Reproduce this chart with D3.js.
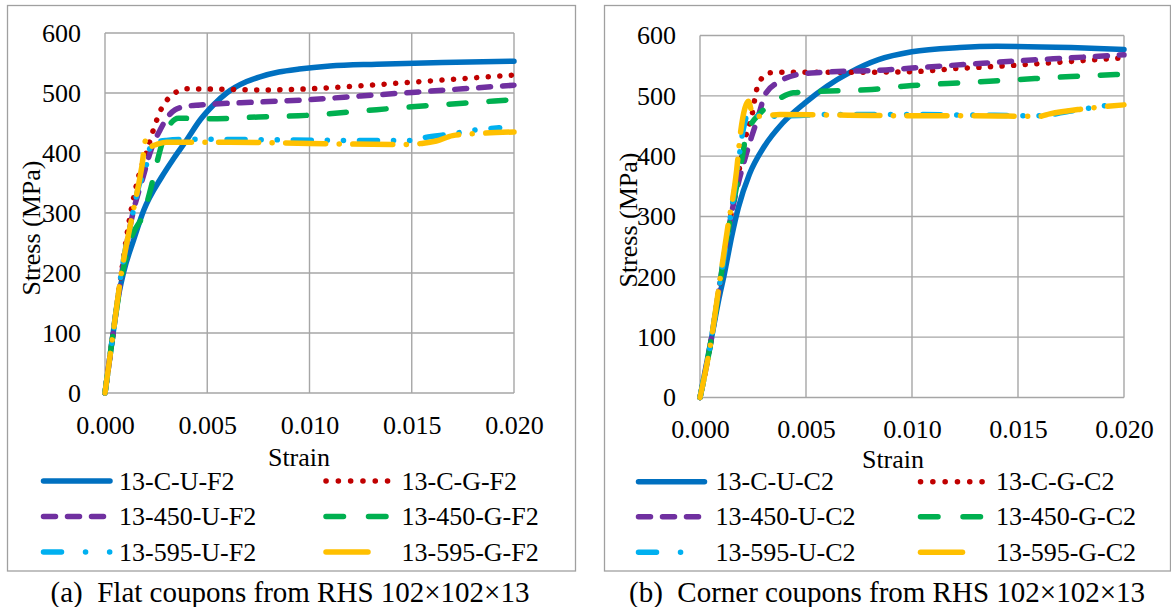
<!DOCTYPE html>
<html><head><meta charset="utf-8">
<script src="https://cdn.jsdelivr.net/npm/d3@7"></script>
<style>
html,body{margin:0;padding:0;background:#fff;}
svg text{font-family:"Liberation Serif","Times New Roman",serif;fill:#000;white-space:pre;}
</style>
</head><body>
<svg id="c" width="1171" height="607"></svg>
<script>
// ---------- data ----------
const xTicks = [0, 0.005, 0.010, 0.015, 0.020];
const yTicks = [0, 100, 200, 300, 400, 500, 600];
const xTitle = "Strain";
const yTitle = "Stress (MPa)";
const captionA = "(a)  Flat coupons from RHS 102×102×13";
const captionB = "(b)  Corner coupons from RHS 102×102×13";
const namesA = ["13-C-U-F2","13-C-G-F2","13-450-U-F2","13-450-G-F2","13-595-U-F2","13-595-G-F2"];
const namesB = ["13-C-U-C2","13-C-G-C2","13-450-U-C2","13-450-G-C2","13-595-U-C2","13-595-G-C2"];

// panel (a) flat coupons: [strain, stress MPa]
const flatCU = [[0,0],[0.0004,100],[0.0006,150],[0.0009,200],[0.0014,255],[0.0019,305],[0.00277,360],[0.00334,390],[0.004,422],[0.00465,455],[0.0053,480],[0.00595,500],[0.00693,519],[0.00758,527],[0.0085,535],[0.0095,540],[0.011,545],[0.0133,548],[0.0165,551],[0.020,553]];
const flatCG = [[0,0],[0.0004,100],[0.0008,200],[0.0012,290],[0.00166,363],[0.0020,398],[0.00236,438],[0.00269,469],[0.0031,491],[0.0035,502],[0.0040,507],[0.006,506],[0.008,505],[0.010,507],[0.0125,512],[0.015,518],[0.0175,524],[0.020,530]];
const flat450U = [[0,0],[0.0004,100],[0.0008,195],[0.0013,290],[0.00187,361],[0.0023,410],[0.00269,438],[0.00302,458],[0.00342,472],[0.004,478],[0.00465,480],[0.0075,485],[0.010,489],[0.0125,495],[0.015,501],[0.0175,507],[0.020,513]];
const flat450G = [[0,0],[0.0004,100],[0.0008,190],[0.0013,260],[0.00189,299],[0.00226,344],[0.00253,383],[0.00302,438],[0.00359,458],[0.005,457],[0.0075,460],[0.010,463],[0.0125,470],[0.015,477],[0.0175,483],[0.020,489]];
const flat595U = [[0,0],[0.0004,100],[0.0008,200],[0.0013,290],[0.0017,350],[0.00196,369],[0.00212,397],[0.00228,417],[0.003,421],[0.0043,423],[0.008,422],[0.012,421],[0.015,421],[0.0155,425],[0.017,432],[0.018,438],[0.0193,442]];
const flat595G = [[0,0],[0.0004,100],[0.0008,200],[0.0013,290],[0.0018,377],[0.0020,422],[0.0021,410],[0.0025,414],[0.003,418],[0.006,418],[0.010,416],[0.0145,414],[0.0155,416],[0.0162,420],[0.017,429],[0.018,432],[0.020,435]];

// panel (b) corner coupons
const cornCU = [[0,0],[0.00055,100],[0.0009,165],[0.00115,205],[0.0015,268],[0.00181,315],[0.00233,370],[0.00303,416],[0.0039,455],[0.00494,488],[0.00599,516],[0.00703,538],[0.00842,560],[0.00999,573],[0.01225,580],[0.014,582],[0.0175,580],[0.020,577]];
const cornCG = [[0,0],[0.00055,100],[0.0009,180],[0.0013,270],[0.0017,350],[0.0020,405],[0.00216,433],[0.00244,466],[0.00267,510],[0.00283,524],[0.00322,538],[0.00377,539],[0.0049,539],[0.007,539],[0.010,540],[0.012,545],[0.014,549],[0.015,551],[0.0175,557],[0.020,563]];
const corn450U = [[0,0],[0.00055,100],[0.0009,180],[0.0013,270],[0.0017,340],[0.00197,377],[0.00244,433],[0.00275,466],[0.00307,502],[0.00377,524],[0.00456,535],[0.0058,539],[0.00877,543],[0.010,546],[0.0125,552],[0.015,558],[0.0175,563],[0.020,568]];
const corn450G = [[0,0],[0.00055,100],[0.0009,180],[0.0013,270],[0.0017,345],[0.0020,400],[0.0022,440],[0.00244,455],[0.00283,471],[0.00377,496],[0.0044,505],[0.00613,508],[0.00786,510],[0.010,517],[0.0125,522],[0.015,527],[0.0175,532],[0.020,536]];
const corn595U = [[0,0],[0.00055,100],[0.0009,180],[0.0013,270],[0.0017,360],[0.00204,444],[0.00228,471],[0.0026,468],[0.00338,466],[0.006,469],[0.010,469],[0.013,468],[0.016,467],[0.0175,475],[0.019,483],[0.0197,487]];
const corn595G = [[0,0],[0.00055,100],[0.0009,185],[0.0013,280],[0.00173,377],[0.00189,433],[0.00212,480],[0.00228,491],[0.00244,474],[0.0026,466],[0.00377,469],[0.007,468],[0.010,467],[0.013,467],[0.016,466],[0.0165,470],[0.018,478],[0.020,485]];

// ---------- styles ----------
const colors = ["#0070C0","#C00000","#7030A0","#00B050","#00B0F0","#FFC000"];
const dashCurve = [null,"0.1,11.5","12,12","17,23","18,16,0.1,16,0.1,16","40,13.5,0.1,13.5"];
const dashLegend = [null,"0.1,12.2","12,12","17.5,25","18,24,0.1,24,0.1,24","42,24,0.1,24"];
const SW = 5.5;

const svg = d3.select("#c");

function panel(cfg){
  const g = svg.append("g");
  g.append("rect").attr("x",cfg.box[0]).attr("y",cfg.box[1])
    .attr("width",cfg.box[2]-cfg.box[0]).attr("height",cfg.box[3]-cfg.box[1])
    .attr("fill","none").attr("stroke","#A0A0A0").attr("stroke-width",1.3);
  const x = d3.scaleLinear().domain([0,0.02]).range(cfg.xr);
  const y = d3.scaleLinear().domain([0,600]).range(cfg.yr);
  g.append("g").selectAll("line").data(yTicks).join("line")
    .attr("x1",cfg.xr[0]).attr("x2",cfg.xr[1])
    .attr("y1",d=>y(d)).attr("y2",d=>y(d))
    .attr("stroke","#A6A6A6").attr("stroke-width",1.4);
  g.append("g").selectAll("line").data(xTicks).join("line")
    .attr("y1",cfg.yr[0]).attr("y2",cfg.yr[1])
    .attr("x1",d=>x(d)).attr("x2",d=>x(d))
    .attr("stroke","#A6A6A6").attr("stroke-width",1.4);
  const ax = g.append("g").attr("transform",`translate(0,${cfg.yr[0]})`)
    .call(d3.axisBottom(x).tickValues(xTicks).tickFormat(d3.format(".3f")).tickSize(0).tickPadding(cfg.xpad));
  ax.select(".domain").remove();
  ax.selectAll("text").attr("font-size",26).attr("fill","#000");
  const ay = g.append("g").attr("transform",`translate(${cfg.xr[0]},0)`)
    .call(d3.axisLeft(y).tickValues(yTicks).tickFormat(d3.format("d")).tickSize(0).tickPadding(24));
  ay.select(".domain").remove();
  ay.selectAll("text").attr("font-size",26).attr("fill","#000");
  const line = d3.line().x(d=>x(d[0])).y(d=>y(d[1])).curve(d3.curveMonotoneX);
  cfg.series.forEach((s,i)=>{
    const p = g.append("path").attr("d",line(s)).attr("fill","none")
      .attr("stroke",colors[i]).attr("stroke-width",SW)
      .attr("stroke-linecap","round").attr("stroke-linejoin","round");
    if(dashCurve[i]) p.attr("stroke-dasharray",dashCurve[i]);
  });
  g.append("text").attr("x",cfg.xt[0]).attr("y",cfg.xt[1]).attr("text-anchor","middle")
    .attr("font-size",26).text(xTitle);
  g.append("text").attr("transform",`translate(${cfg.yt[0]},${cfg.yt[1]}) rotate(-90)`)
    .attr("text-anchor","middle").attr("font-size",26).text(yTitle);
  cfg.names.forEach((n,i)=>{
    const col = i%2, row = Math.floor(i/2);
    const ly = cfg.legRows[row];
    const lx = cfg.legCols[col];
    const l = g.append("line").attr("x1",lx[0]).attr("x2",lx[1]).attr("y1",ly).attr("y2",ly)
      .attr("stroke",colors[i]).attr("stroke-width",SW).attr("stroke-linecap","round");
    if(dashLegend[i]) l.attr("stroke-dasharray",dashLegend[i]);
    g.append("text").attr("x",lx[2]).attr("y",ly+8.5).attr("font-size",26).text(n);
  });
  svg.append("text").attr("x",cfg.cap[0]).attr("y",cfg.cap[1]).attr("text-anchor","middle")
    .attr("font-size",29).attr("xml:space","preserve").text(cfg.caption);
}

panel({
  box:[7.5,5.5,575.5,571], xr:[105,514], yr:[393,33], xpad:22.5,
  series:[flatCU,flatCG,flat450U,flat450G,flat595U,flat595G],
  names:namesA, xt:[299,466], yt:[40,228],
  legRows:[481,516.5,552], legCols:[[43.5,110,119],[326,388,401.5]],
  cap:[290,602], caption:captionA
});
panel({
  box:[604.5,5.5,1170.5,571], xr:[700,1124], yr:[397.5,35.5], xpad:22,
  series:[cornCU,cornCG,corn450U,corn450G,corn595U,corn595G],
  names:namesB, xt:[893,468], yt:[637,220],
  legRows:[481.7,516.7,552.3], legCols:[[638.5,704.5,715.5],[920.5,982.5,996]],
  cap:[887,602], caption:captionB
});
</script>
</body></html>
